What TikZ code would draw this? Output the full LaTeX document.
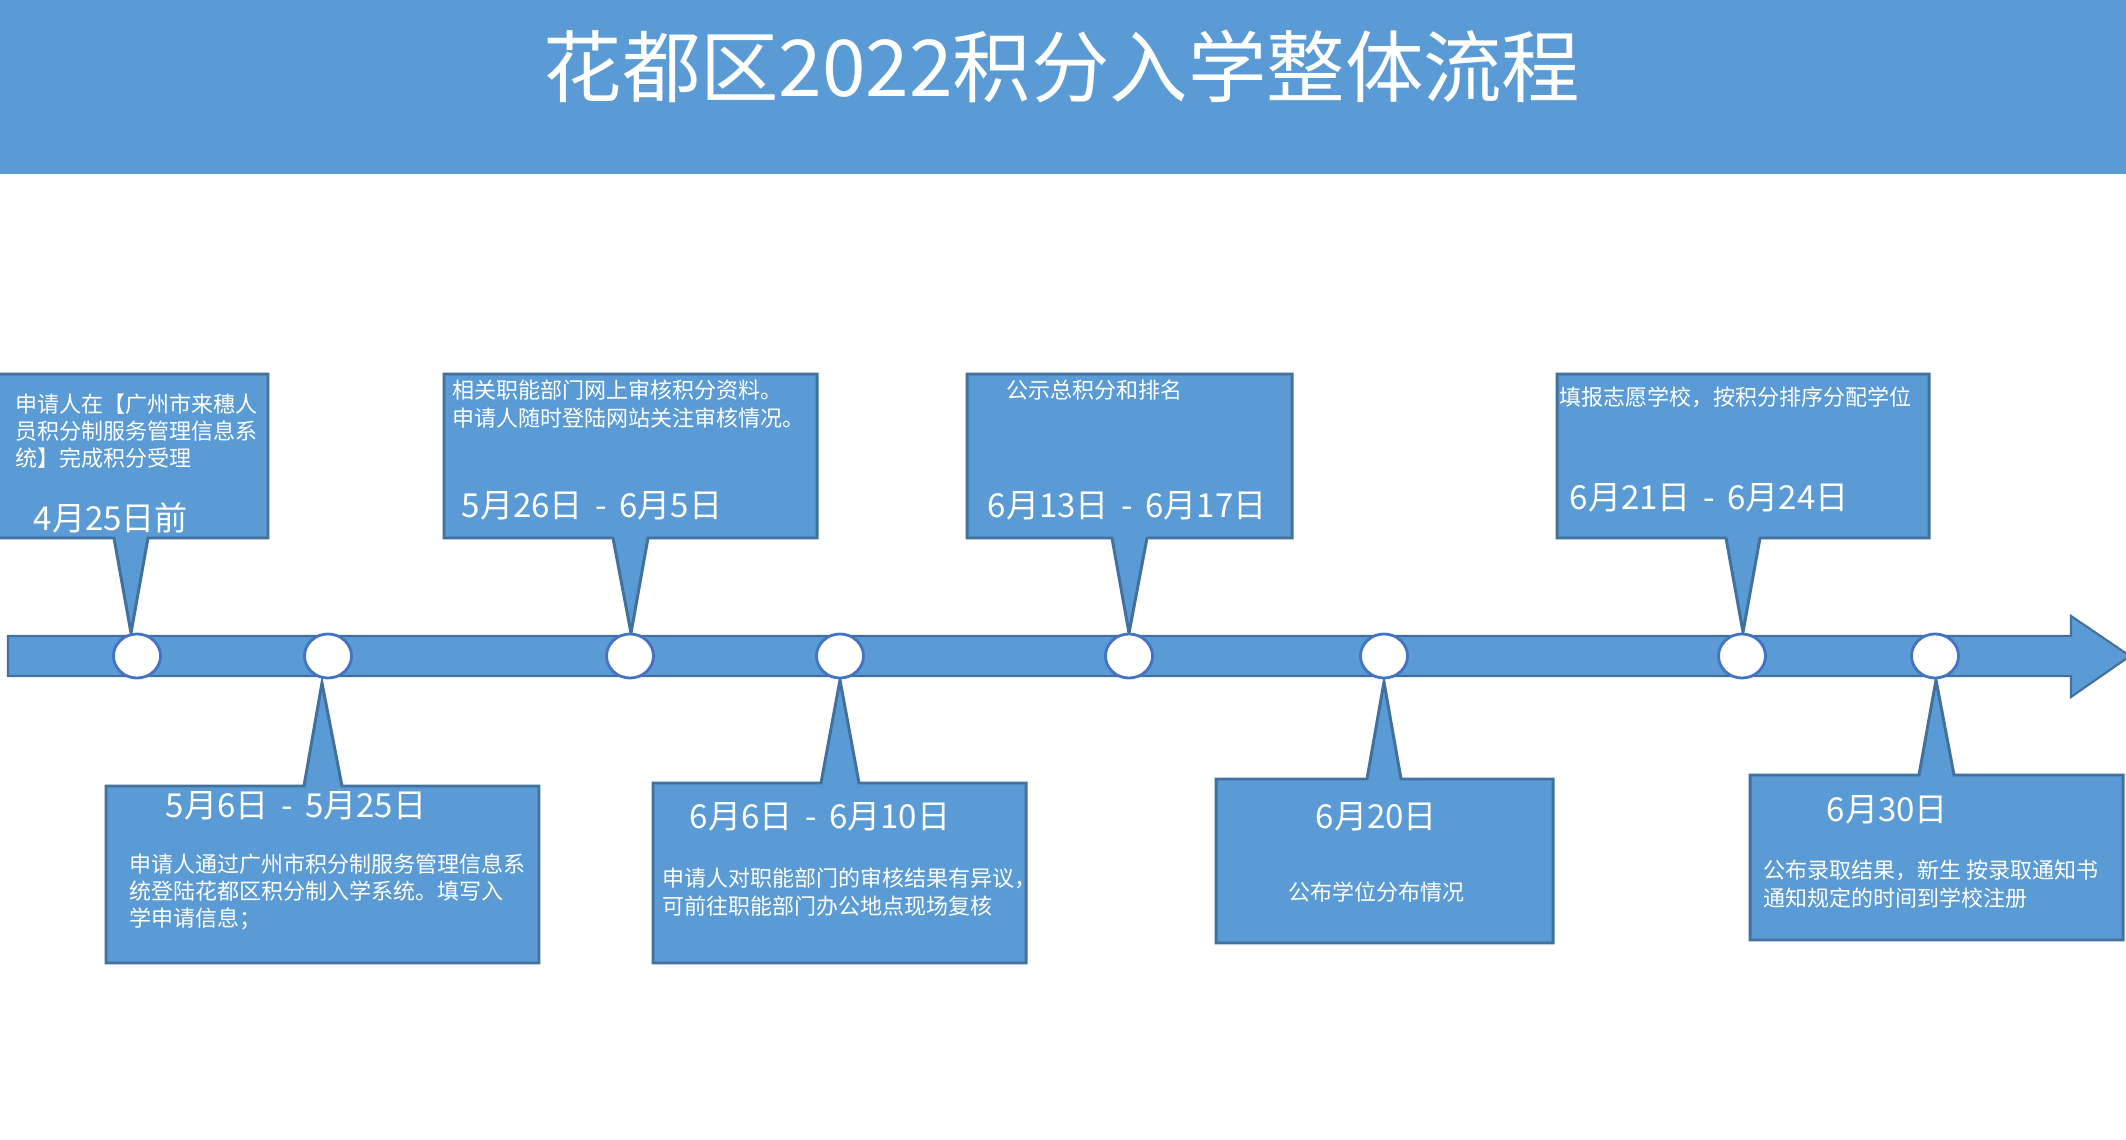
\documentclass[tikz,border=0pt]{standalone}
\usepackage{fontspec}
\setmainfont{Noto Sans CJK SC}
\usetikzlibrary{shapes.geometric}
\definecolor{fillblue}{HTML}{5B9BD5}
\definecolor{edgeblue}{HTML}{41719C}
\definecolor{ringblue}{HTML}{4472C4}
\newcommand{\dashsep}{\hspace{0.38em}-\hspace{0.38em}}
\tikzset{
  callout/.style={fill=fillblue, draw=edgeblue, line width=0.85pt, line join=miter},
  bararrow/.style={fill=fillblue, draw=edgeblue, line width=0.6pt},
  dot/.style={ellipse, draw=ringblue, fill=white, line width=0.8pt, inner sep=0pt,
              minimum width=0.47cm, minimum height=0.44cm},
  smalltxt/.style={text=white, inner sep=0pt, align=left, anchor=west,
                   font=\fontsize{6.26}{7.77}\selectfont},
  datetxt/.style={text=white, inner sep=0pt, anchor=west, font=\fontsize{9.4}{11}\selectfont},
  titletxt/.style={text=white, inner sep=0pt, font=\fontsize{22.3}{26}\selectfont}
}
\begin{document}
\begin{tikzpicture}[x=0.01cm,y=-0.01cm]
\useasboundingbox (0,0) rectangle (2126,1140);
\fill[white] (0,0) rectangle (2126,1140);
% banner
\fill[fillblue] (0,0) rectangle (2126,174);
\node[titletxt] (title) at (1062,66) {花都区2022积分入学整体流程};
% timeline arrow
\draw[bararrow] (8,636) -- (2071,636) -- (2071,616) -- (2130,656) -- (2071,697) -- (2071,676) -- (8,676) -- cycle;
% top callouts
\draw[callout] (-10,374) -- (268,374) -- (268,538) -- (148,538) -- (131,633) -- (114,538) -- (-10,538) -- cycle;
\draw[callout] (444,374) -- (817,374) -- (817,538) -- (648,538) -- (631,633) -- (613,538) -- (444,538) -- cycle;
\draw[callout] (967,374) -- (1292,374) -- (1292,538) -- (1147,538) -- (1129,633) -- (1112,538) -- (967,538) -- cycle;
\draw[callout] (1557,374) -- (1929,374) -- (1929,538) -- (1760,538) -- (1743,632) -- (1726,538) -- (1557,538) -- cycle;
% bottom callouts
\draw[callout] (106,786) -- (304,786) -- (322,683) -- (342,786) -- (539,786) -- (539,963) -- (106,963) -- cycle;
\draw[callout] (653,783) -- (821,783) -- (840,680) -- (859,783) -- (1026,783) -- (1026,963) -- (653,963) -- cycle;
\draw[callout] (1216,779) -- (1367,779) -- (1384,682) -- (1401,779) -- (1553,779) -- (1553,943) -- (1216,943) -- cycle;
\draw[callout] (1750,775) -- (1919,775) -- (1936,680) -- (1954,775) -- (2123,775) -- (2123,940) -- (1750,940) -- cycle;
% timeline dots
\node[dot] (d1) at (137,656) {};
\node[dot] (d2) at (328,656) {};
\node[dot] (d3) at (630,656) {};
\node[dot] (d4) at (840,656) {};
\node[dot] (d5) at (1129,656) {};
\node[dot] (d6) at (1384,656) {};
\node[dot] (d7) at (1742,656) {};
\node[dot] (d8) at (1935,656) {};
% texts top
\node[smalltxt] (t1) at (15,431) {申请人在【广州市来穗人\\员积分制服务管理信息系\\统】完成积分受理};
\node[datetxt] (a1) at (33,518) {4月25日前};
\node[smalltxt] (t2) at (452,404) {相关职能部门网上审核积分资料。\\申请人随时登陆网站关注审核情况。};
\node[datetxt] (a2) at (461,506) {5月26日\dashsep 6月5日};
\node[smalltxt] (t3) at (1006,390) {公示总积分和排名};
\node[datetxt] (a3) at (987,506) {6月13日\dashsep 6月17日};
\node[smalltxt] (t4) at (1559,397) {填报志愿学校，按积分排序分配学位};
\node[datetxt] (a4) at (1569,498) {6月21日\dashsep 6月24日};
% texts bottom
\node[datetxt] (a5) at (165,806) {5月6日\dashsep 5月25日};
\node[smalltxt] (t5) at (129,892) {申请人通过广州市积分制服务管理信息系\\统登陆花都区积分制入学系统。填写入\\学申请信息；};
\node[datetxt] (a6) at (689,817) {6月6日\dashsep 6月10日};
\node[smalltxt] (t6) at (662,892) {申请人对职能部门的审核结果有异议，\\可前往职能部门办公地点现场复核};
\node[datetxt] (a7) at (1315,817) {6月20日};
\node[smalltxt] (t7) at (1288,892) {公布学位分布情况};
\node[datetxt] (a8) at (1826,810) {6月30日};
\node[smalltxt] (t8) at (1763,884) {公布录取结果，新生 按录取通知书\\通知规定的时间到学校注册};
\end{tikzpicture}
\end{document}
